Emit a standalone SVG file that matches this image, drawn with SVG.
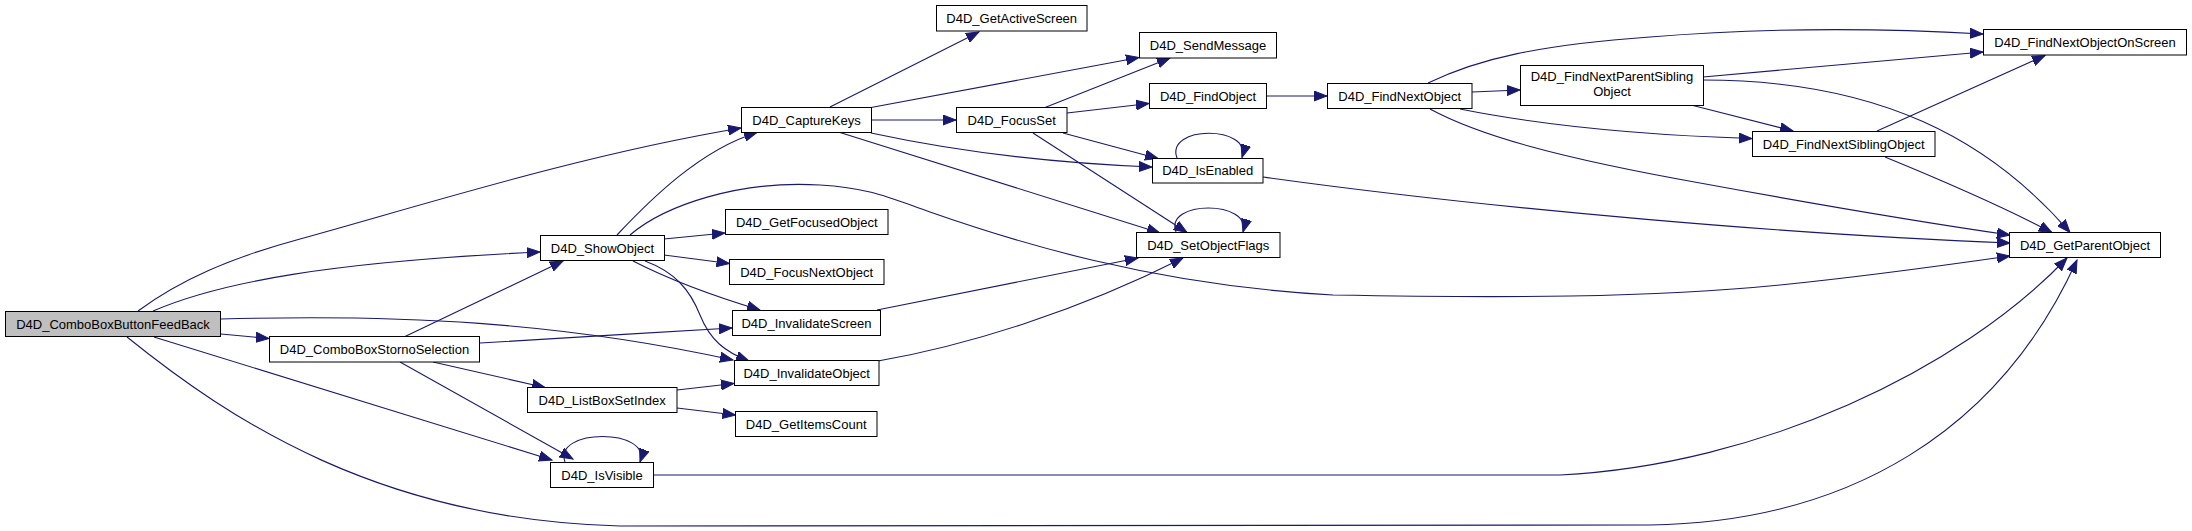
<svg xmlns="http://www.w3.org/2000/svg" width="2192" height="531" viewBox="0 0 2192 531">
<style>
.n rect{fill:#ffffff;stroke:#000000;stroke-width:1}
.n.root rect{fill:#bfbfbf}
.n text{font-family:"Liberation Sans",Arial,sans-serif;font-size:13px;fill:#000000;text-anchor:middle}
.e path{fill:none;stroke:#191970;stroke-width:1.1;marker-end:url(#arr)}
</style>
<defs>
<marker id="arr" markerWidth="14" markerHeight="11" refX="13" refY="5.5" orient="auto" markerUnits="userSpaceOnUse">
<path d="M0,0.5 L13,5.5 L0,10.5 Z" fill="#191970" stroke="#191970" stroke-width="1"/>
</marker>
</defs>
<rect x="0" y="0" width="2192" height="531" fill="#ffffff"/>
<g id="connectors" class="e">
<path d="M138,311 C180,280 230,258 300,239 C420,206 580,155 741,128"/>
<path d="M153,311 C220,282 330,262 540,252"/>
<path d="M221,319 C400,314 560,322 733,360"/>
<path d="M221,334 L269,338.5"/>
<path d="M154,337 L552,460"/>
<path d="M127,337 C230,420 380,520 620,526 L1650,525 C1850,522 2000,430 2077,260"/>
<path d="M405,336.5 L563,261"/>
<path d="M480,343 C560,338 650,333 732,328"/>
<path d="M433,362 L545,387.5"/>
<path d="M400,362 L573,459"/>
<path d="M617,235 C650,200 700,150 757,132.5"/>
<path d="M630,235 C665,205 740,180 820,185 C870,188 890,198 930,212 C1010,240 1150,285 1333,295 C1500,298 1650,298 1780,285 C1860,277 1940,266 2010,256"/>
<path d="M664,239 L725,233"/>
<path d="M664,255 L729.5,263.5"/>
<path d="M633,261 C670,280 710,295 760,310"/>
<path d="M645,261 C675,272 690,290 700,315 C710,340 725,352 749,361"/>
<path d="M677,390 L734,383.5"/>
<path d="M677,408 L735.5,415"/>
<path d="M565,462 C553,428 652,428 640,462"/>
<path d="M654,475 L1560,475 C1760,465 1960,370 2067,258"/>
<path d="M830,107 L979,32"/>
<path d="M871,107.5 L1139,57.5"/>
<path d="M871,120 L956,120"/>
<path d="M871,133 C950,150 1050,163 1152,167"/>
<path d="M840,132.5 L1160,233"/>
<path d="M1045,107.5 L1170,58"/>
<path d="M1067,113 L1149,103.5"/>
<path d="M1063,133 L1158,158.5"/>
<path d="M1033,133 L1187,232.5"/>
<path d="M1267,96 L1327,96"/>
<path d="M1177,158 C1165,125 1252,125 1242,157.5"/>
<path d="M1176,232 C1164,200 1252,200 1243,232"/>
<path d="M1263,177 C1500,210 1800,235 2010,243"/>
<path d="M877,310 L1138,258"/>
<path d="M878,361 C970,345 1080,310 1183,258"/>
<path d="M1472,92 L1520,90"/>
<path d="M1428,83 C1480,58 1540,45 1650,37 C1760,28 1880,28 1983,34"/>
<path d="M1460,109 C1540,125 1640,135 1752,138.5"/>
<path d="M1430,109 C1480,136 1560,158 1700,183 C1820,205 1920,222 2010,235"/>
<path d="M1703,77 L1983,52"/>
<path d="M1693,105.5 L1793,131"/>
<path d="M1703,80 C1880,80 1990,140 2070,232.5"/>
<path d="M1877,131 L2045,55.5"/>
<path d="M1885,157 Q1990,200 2052,232.5"/>
</g>
<g id="node_ComboBoxButtonFeedBack" class="n root"><rect x="5.5" y="311.5" width="215" height="25"/><text x="113" y="328.5">D4D_ComboBoxButtonFeedBack</text></g>
<g id="node_ComboBoxStornoSelection" class="n"><rect x="269.5" y="336.5" width="210" height="25.5"/><text x="374.5" y="353.7">D4D_ComboBoxStornoSelection</text></g>
<g id="node_ShowObject" class="n"><rect x="540.5" y="235.5" width="124" height="25"/><text x="602.5" y="252.5">D4D_ShowObject</text></g>
<g id="node_ListBoxSetIndex" class="n"><rect x="527.5" y="387.5" width="149.5" height="25"/><text x="602.2" y="404.5">D4D_ListBoxSetIndex</text></g>
<g id="node_IsVisible" class="n"><rect x="550.5" y="462.5" width="103" height="25"/><text x="602" y="479.5">D4D_IsVisible</text></g>
<g id="node_CaptureKeys" class="n"><rect x="741.5" y="107.5" width="130" height="25"/><text x="806.5" y="124.5">D4D_CaptureKeys</text></g>
<g id="node_GetFocusedObject" class="n"><rect x="725.5" y="209.5" width="162.5" height="25"/><text x="806.7" y="226.5">D4D_GetFocusedObject</text></g>
<g id="node_FocusNextObject" class="n"><rect x="729.5" y="259.5" width="154.5" height="25"/><text x="806.7" y="276.5">D4D_FocusNextObject</text></g>
<g id="node_InvalidateScreen" class="n"><rect x="732.5" y="310.5" width="148" height="25"/><text x="806.5" y="327.5">D4D_InvalidateScreen</text></g>
<g id="node_InvalidateObject" class="n"><rect x="734.5" y="360.5" width="144.5" height="25"/><text x="806.7" y="377.5">D4D_InvalidateObject</text></g>
<g id="node_GetItemsCount" class="n"><rect x="735.5" y="411.5" width="141.5" height="25"/><text x="806.2" y="428.5">D4D_GetItemsCount</text></g>
<g id="node_GetActiveScreen" class="n"><rect x="936.5" y="5.5" width="150.5" height="25.5"/><text x="1011.7" y="22.7">D4D_GetActiveScreen</text></g>
<g id="node_FocusSet" class="n"><rect x="956.5" y="107.5" width="110.5" height="25"/><text x="1011.7" y="124.5">D4D_FocusSet</text></g>
<g id="node_SendMessage" class="n"><rect x="1139.5" y="32.5" width="137" height="25.5"/><text x="1208" y="49.7">D4D_SendMessage</text></g>
<g id="node_FindObject" class="n"><rect x="1149.5" y="83.5" width="117" height="25"/><text x="1208" y="100.5">D4D_FindObject</text></g>
<g id="node_IsEnabled" class="n"><rect x="1152.5" y="158.5" width="110.5" height="24.5"/><text x="1207.7" y="175.2">D4D_IsEnabled</text></g>
<g id="node_SetObjectFlags" class="n"><rect x="1136.5" y="232.5" width="143.5" height="25"/><text x="1208.2" y="249.5">D4D_SetObjectFlags</text></g>
<g id="node_FindNextObject" class="n"><rect x="1327.5" y="83.5" width="144.5" height="25"/><text x="1399.7" y="100.5">D4D_FindNextObject</text></g>
<g id="node_FindNextParentSiblingObject" class="n"><rect x="1520.5" y="65.5" width="183" height="40"/><text x="1612" y="81.2">D4D_FindNextParentSibling</text><text x="1612" y="96.2">Object</text></g>
<g id="node_FindNextSiblingObject" class="n"><rect x="1752.5" y="131.5" width="182.5" height="25"/><text x="1843.7" y="148.5">D4D_FindNextSiblingObject</text></g>
<g id="node_FindNextObjectOnScreen" class="n"><rect x="1983.5" y="29.5" width="203" height="25.5"/><text x="2085" y="46.7">D4D_FindNextObjectOnScreen</text></g>
<g id="node_GetParentObject" class="n"><rect x="2009.5" y="232.5" width="151" height="25"/><text x="2085" y="249.5">D4D_GetParentObject</text></g>
</svg>
